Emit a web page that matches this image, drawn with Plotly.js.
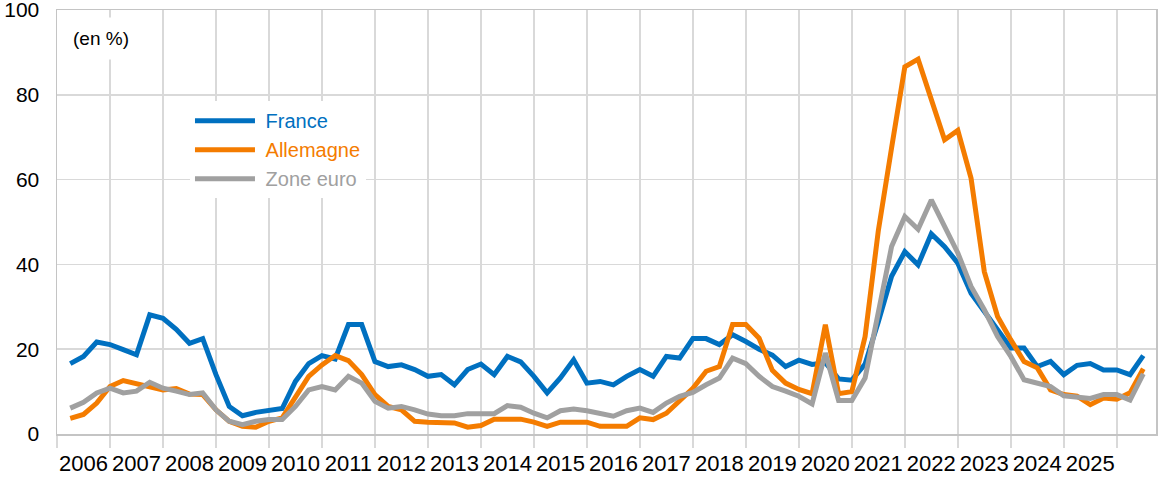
<!DOCTYPE html>
<html>
<head>
<meta charset="utf-8">
<script src="https://cdn.plot.ly/plotly-3.0.1.min.js"></script>
<style>
  html, body { margin: 0; padding: 0; background: #ffffff; }
  #chart { width: 1161px; height: 481px; }
</style>
</head>
<body>
<div id="chart"></div>
<script>
// Quarterly series, first observation = 2006 Q2
const startYear = 2006;
const startQuarter = 2;

const yearLabels = ['2006','2007','2008','2009','2010','2011','2012','2013','2014','2015',
                    '2016','2017','2018','2019','2020','2021','2022','2023','2024','2025'];

const france = [16.6,18.3,21.7,21.1,19.9,18.7,28.1,27.3,24.7,21.4,
                22.5,14.0,6.5,4.3,5.1,5.6,6.0,12.4,16.6,18.5,
                17.7,25.8,25.8,17.1,15.9,16.3,15.2,13.6,14.0,11.6,
                15.2,16.5,14.0,18.3,17.0,13.6,9.7,13.2,17.5,12.0,
                12.4,11.6,13.6,15.2,13.6,18.3,17.9,22.5,22.5,21.1,
                23.4,21.8,20.0,18.6,15.9,17.4,16.4,16.8,13.0,12.7,
                16.5,26.5,37.2,43.0,39.9,47.2,44.2,40.3,33.2,28.9,
                24.6,20.3,20.3,15.9,17.1,14.0,16.2,16.6,15.1,15.1,
                14.0,18.5];

const allemagne = [3.7,4.6,7.3,11.2,12.6,11.9,11.4,10.4,10.7,9.4,
                   9.3,5.7,3.0,1.8,1.6,3.0,3.8,8.9,13.6,16.3,
                   18.5,17.3,14.0,9.3,6.5,5.7,3.0,2.8,2.6,2.6,
                   1.6,2.0,3.5,3.5,3.5,2.8,1.8,2.8,2.8,2.8,
                   1.8,1.8,1.8,3.8,3.4,4.9,7.7,10.8,14.8,15.9,
                   25.8,25.8,22.6,15.0,12.0,10.5,9.5,25.8,9.5,10.0,
                   23.0,48.0,67.5,86.6,88.4,79.2,69.4,71.6,60.3,38.3,
                   27.7,22.2,17.1,15.6,10.4,9.3,8.9,6.9,8.5,8.2,
                   9.7,15.4];

const zoneEuro = [6.1,7.5,9.7,10.8,9.7,10.1,12.2,10.8,10.1,9.3,
                  9.7,5.7,3.0,2.2,3.0,3.4,3.4,6.5,10.4,11.2,
                  10.4,13.6,12.0,7.7,6.1,6.5,5.7,4.7,4.3,4.3,
                  4.8,4.8,4.8,6.7,6.3,4.9,3.8,5.5,5.9,5.5,
                  4.7,4.2,5.5,6.1,5.1,7.3,8.9,9.8,11.6,13.2,
                  17.9,16.6,13.6,11.2,10.1,8.9,7.1,19.1,7.9,7.9,
                  13.2,29.0,44.2,51.3,48.3,55.2,48.7,42.7,34.8,29.3,
                  23.0,18.3,12.8,12.0,11.2,9.0,8.8,8.4,9.3,9.3,
                  8.0,14.2];

const seriesNames = ['France', 'Allemagne', 'Zone euro'];
const seriesColors = ['#0070C0', '#F47C00', '#A0A0A0'];

// x position of each quarter (start of quarter, in years)
const xq = france.map((_, i) => startYear + (startQuarter - 1) / 4 + i / 4);

const FONT = 'Liberation Sans, Arial, sans-serif';
const seriesData = [france, allemagne, zoneEuro];

const traces = seriesData.map((vals, k) => ({
  type: 'scatter',
  mode: 'lines',
  x: xq,
  y: vals,
  name: '<span style="color:' + seriesColors[k] + '">\u00a0' + seriesNames[k] + '</span>',
  line: { color: seriesColors[k], width: 5 },
  hoverinfo: 'skip'
}));

const xRange = [2006, 2026.74];
const labelPos = yearLabels.map(y => Number(y) + 0.5);

// empty carrier trace so that the year-label axis is drawn
traces.push({
  type: 'scatter', mode: 'lines',
  x: labelPos, y: labelPos.map(() => null),
  xaxis: 'x2', yaxis: 'y',
  showlegend: false, hoverinfo: 'skip'
});

const layout = {
  width: 1161,
  height: 481,
  margin: { l: 57, r: 5, t: 10, b: 47, pad: 0 },
  paper_bgcolor: '#ffffff',
  plot_bgcolor: '#ffffff',
  font: { family: FONT, color: '#000000' },
  showlegend: true,
  legend: {
    x: 0.121, y: 0.785, xanchor: 'left', yanchor: 'top',
    bgcolor: '#ffffff', borderwidth: 0,
    font: { family: FONT, size: 20 },
    itemwidth: 60,
    tracegroupgap: 0
  },
  xaxis: {
    range: xRange,
    tickmode: 'linear', tick0: 2006, dtick: 1,
    showticklabels: false,
    ticks: 'outside', ticklen: 12, tickwidth: 1.5, tickcolor: '#D9D9D9',
    showgrid: true, gridcolor: '#D9D9D9', gridwidth: 1.5,
    showline: true, linecolor: '#C4C4C4', linewidth: 1.5, mirror: true,
    zeroline: false, fixedrange: true
  },
  xaxis2: {
    overlaying: 'x', anchor: 'y', side: 'bottom',
    range: xRange,
    tickmode: 'array', tickvals: labelPos, ticktext: yearLabels,
    ticks: '', showgrid: false, showline: false, zeroline: false,
    tickfont: { family: FONT, size: 22, color: '#000000' },
    ticklabelstandoff: 14,
    ticklabeloverflow: 'allow',
    fixedrange: true
  },
  yaxis: {
    range: [0, 100], tickmode: 'linear', tick0: 0, dtick: 20,
    ticks: '',
    showgrid: true, gridcolor: '#D9D9D9', gridwidth: 1.5,
    showline: true, linecolor: '#C4C4C4', linewidth: 1.5, mirror: true,
    zeroline: false,
    tickfont: { family: FONT, size: 21, color: '#000000' },
    ticklabelstandoff: 12,
    ticklabeloverflow: 'allow',
    fixedrange: true
  },
  shapes: [{
    // white legend box, drawn over the gridlines and under the series
    type: 'rect', xref: 'paper', yref: 'paper', layer: 'between',
    x0: 0.1183, x1: 0.3476, y0: 0.552, y1: 0.781,
    fillcolor: '#ffffff', line: { width: 0 }
  }],
  annotations: [{
    xref: 'paper', yref: 'paper',
    x: 0.0045, y: 0.932, xanchor: 'left', yanchor: 'middle',
    text: '(en %)', showarrow: false,
    font: { family: FONT, size: 19, color: '#000000' },
    bgcolor: '#ffffff', borderpad: 10
  }]
};

Plotly.newPlot('chart', traces, layout, { staticPlot: true, displayModeBar: false });
</script>
</body>
</html>
